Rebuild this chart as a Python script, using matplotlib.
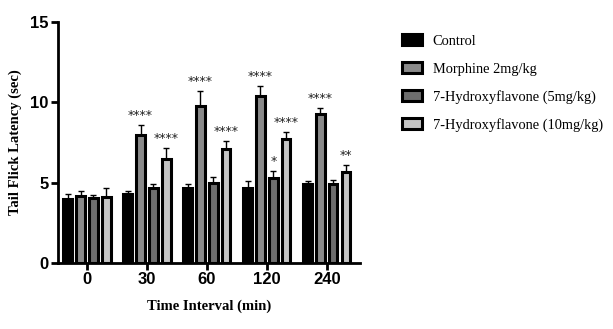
import matplotlib.pyplot as plt
import numpy as np
from matplotlib.patches import Patch

# dane
time_labels = ["0", "30", "60", "120", "240"]
groups = ["Control", "Morphine 2mg/kg", "7-Hydroxyflavone (5mg/kg)", "7-Hydroxyflavone (10mg/kg)"]
control = [4.0, 4.3, 4.7, 4.7, 4.9]
morphine = [4.2, 8.0, 9.8, 10.4, 9.3]
hf5 = [4.05, 4.65, 5.0, 5.3, 4.9]
hf10 = [4.1, 6.5, 7.1, 7.7, 5.7]
control_err = [0.3, 0.2, 0.2, 0.4, 0.2]
morphine_err = [0.3, 0.6, 0.9, 0.6, 0.35]
hf5_err = [0.2, 0.25, 0.35, 0.45, 0.3]
hf10_err = [0.6, 0.65, 0.5, 0.45, 0.4]
morphine_sig = ["", "****", "****", "****", "****"]
hf5_sig = ["", "", "", "*", ""]
hf10_sig = ["", "****", "****", "****", "**"]

fills = ["black", "#8a8a8a", "#6e6e6e", "#c4c4c4"]


def main():
    fig = plt.figure(figsize=(6.13, 3.29), dpi=100)
    ax = fig.add_axes([0.095, 0.2, 0.492, 0.733])

    x = np.arange(len(time_labels))
    step = 0.215
    width = 0.14
    series = [
        (control, control_err, None),
        (morphine, morphine_err, morphine_sig),
        (hf5, hf5_err, hf5_sig),
        (hf10, hf10_err, hf10_sig),
    ]
    for i, (vals, errs, sig) in enumerate(series):
        pos = x + (i - 1.5) * step
        ax.bar(pos, vals, width=width, color=fills[i], edgecolor="black",
               linewidth=2.2, zorder=2)
        ax.errorbar(pos, vals, yerr=[np.zeros(len(errs)), errs], fmt="none",
                    ecolor="black", elinewidth=1.0, capsize=2, capthick=1.0, zorder=1)
        if sig:
            for p, v, e, s in zip(pos, vals, errs, sig):
                if s:
                    ax.text(p, v + e + 0.2, s, ha="center", va="bottom",
                            fontsize=9, color="#222222")

    ax.set_xlim(-0.48, 4.55)
    ax.set_ylim(0, 15)
    ax.set_yticks([0, 5, 10, 15])
    ax.set_xticks(x)
    ax.set_xticklabels(time_labels)
    for s in ["top", "right"]:
        ax.spines[s].set_visible(False)
    for s in ["left", "bottom"]:
        ax.spines[s].set_linewidth(2)
    ax.tick_params(width=2, length=5, labelsize=12)
    for lab in ax.get_xticklabels() + ax.get_yticklabels():
        lab.set_fontweight("bold")
        lab.set_family("Liberation Sans")
    ax.tick_params(axis="x", pad=1)
    ax.tick_params(axis="y", pad=2)

    ax.set_ylabel("Tail Flick Latency (sec)", family="Liberation Serif",
                  fontweight="bold", fontsize=10.5, labelpad=6)
    ax.set_xlabel("Time Interval (min)", family="Liberation Serif",
                  fontweight="bold", fontsize=10.5, labelpad=9)

    handles = [Patch(facecolor=c, edgecolor="black", linewidth=2.2) for c in fills]
    fig.legend(handles, groups, loc="upper left", bbox_to_anchor=(0.635, 0.935),
               frameon=False, prop={"family": "Liberation Serif", "size": 10.4},
               handlelength=1.4, handleheight=0.8, labelspacing=0.98, handletextpad=0.7)

    fig.savefig("out.png", dpi=100)


if __name__ == "__main__":
    main()
